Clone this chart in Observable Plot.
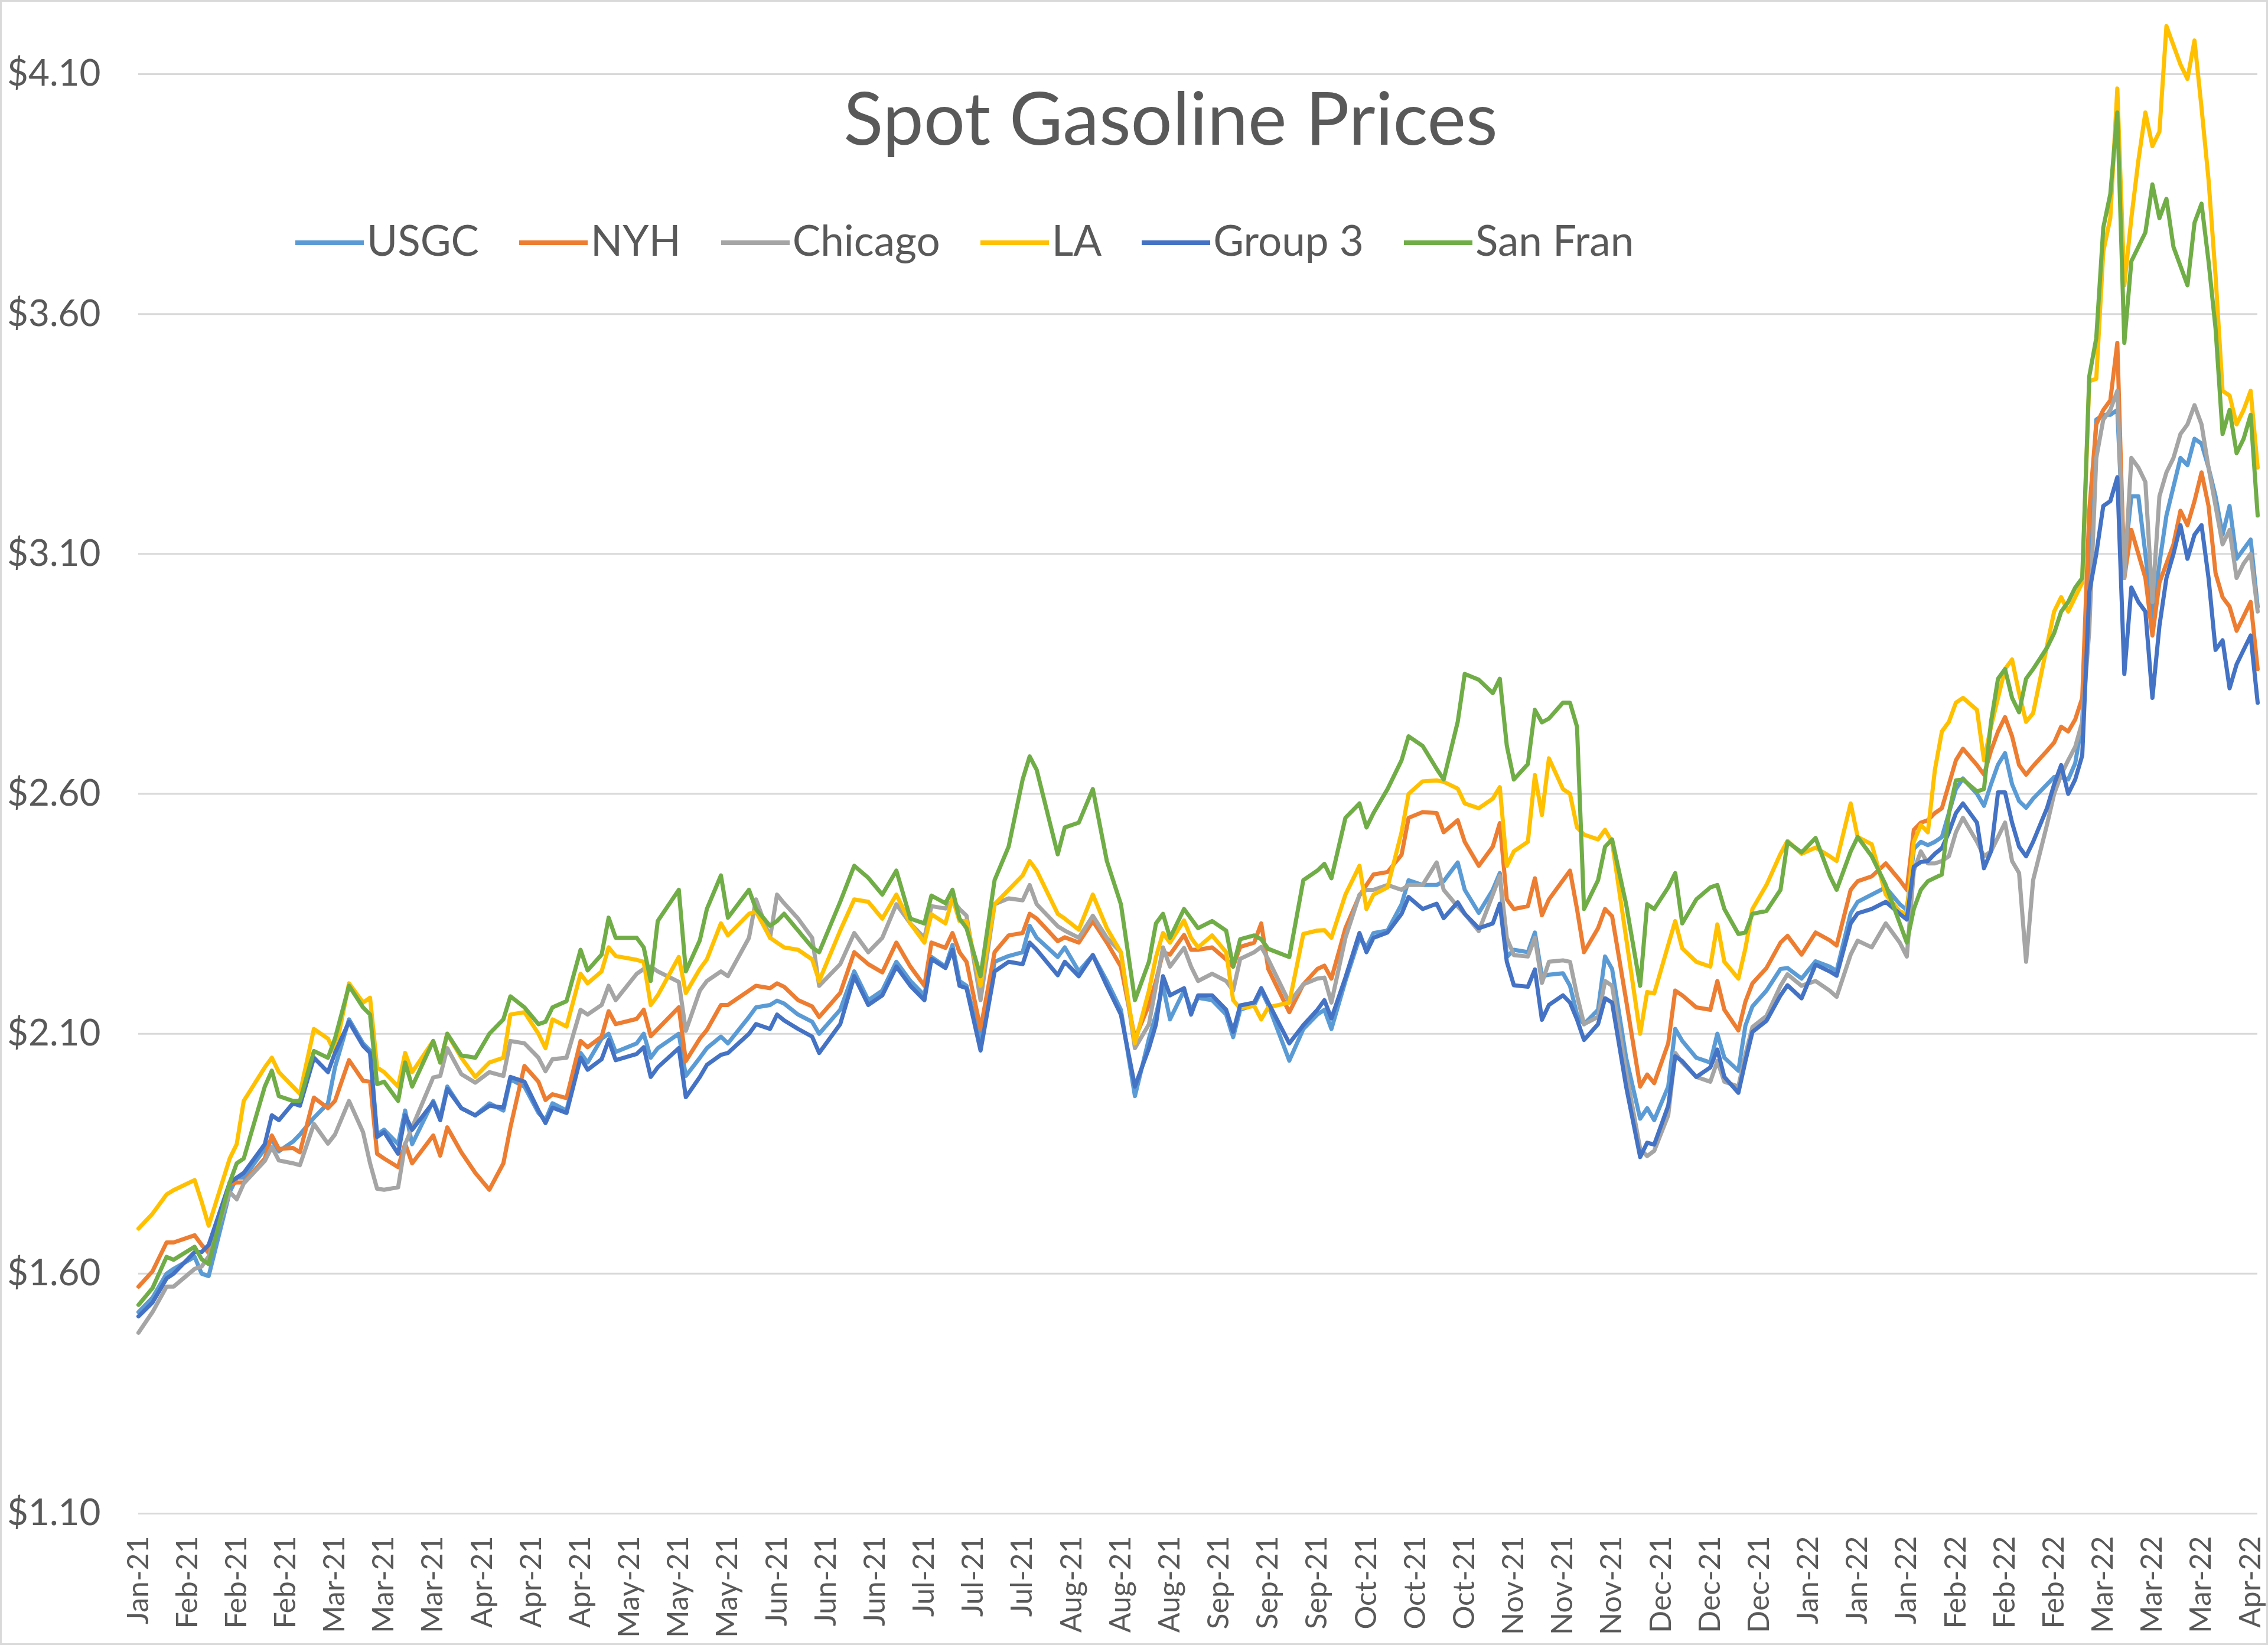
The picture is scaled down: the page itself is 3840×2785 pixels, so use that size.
<!DOCTYPE html>
<html><head><meta charset="utf-8">
<script src="https://cdn.jsdelivr.net/npm/d3@7"></script>
<script src="https://cdn.jsdelivr.net/npm/@observablehq/plot@0.6"></script>
<style>
html,body{margin:0;padding:0;background:#fff;}
#wrap{position:relative;width:3840px;height:2785px;overflow:hidden;font-family:Lato,"Open Sans",sans-serif;background:#fff;}
#frame{position:absolute;left:0;top:0;width:3840px;height:2785px;box-sizing:border-box;border:3px solid #d9d9d9;pointer-events:none;}
#title{position:absolute;left:1982px;top:135px;transform:translateX(-50%);font-size:124px;line-height:1;color:#595959;white-space:nowrap;}
#legend{position:absolute;left:500px;top:370px;display:flex;align-items:center;font-size:71px;color:#595959;line-height:1;white-space:nowrap;}
.item{display:flex;align-items:center;margin-right:68px;}
.sw{width:116px;height:8px;margin-right:5px;position:relative;top:5px;}
</style></head><body>
<div id="wrap"><div id="chart"></div><div id="title">Spot Gasoline Prices</div><div id="legend"></div><div id="frame"></div></div>
<script>
// trading-day index of each sampled point
const day = [0,2,4,5,8,9,10,13,14,15,18,19,20,22,23,25,27,28,30,32,33,34,35,37,38,39,42,43,44,46,48,50,
52,53,55,57,58,59,61,63,64,66,67,68,71,72,73,74,77,78,80,81,83,84,87,88,90,91,92,94,96,97,100,102,
104,106,108,110,112,113,115,116,117,118,120,122,124,126,127,128,131,132,134,136,138,140,142,144,145,146,147,149,150,151,
153,155,156,157,159,160,161,164,166,168,169,170,172,174,175,176,178,180,181,183,185,186,188,189,191,193,194,195,196,198,199,200,201,203,
204,205,206,208,209,210,212,214,215,216,218,219,220,222,224,225,226,228,229,230,232,234,235,237,239,241,242,244,245,247,249,251,252,253,254,
255,256,257,258,259,260,262,263,264,265,266,267,268,269,270,272,273,274,275,276,277,278,279,280,281,282,283,284,285,286,287,288,289,290,291,292,293,294,295,296,297,298,299,300,301,302];

const usgc = [1.52,1.55,1.60,1.61,1.635,1.60,1.595,1.77,1.80,1.80,1.86,1.88,1.855,1.875,1.89,1.925,1.955,2.03,2.13,2.08,2.065,1.89,1.90,1.87,1.94,1.87,1.96,1.925,1.99,1.945,1.93,1.955,
1.94,2.005,1.99,1.935,1.92,1.955,1.94,2.06,2.04,2.09,2.10,2.062,2.08,2.10,2.05,2.07,2.10,2.012,2.05,2.07,2.094,2.08,2.135,2.155,2.16,2.169,2.163,2.14,2.125,2.10,2.15,2.23,
2.17,2.19,2.25,2.21,2.18,2.26,2.24,2.285,2.21,2.20,2.085,2.25,2.262,2.27,2.325,2.30,2.26,2.28,2.23,2.264,2.21,2.15,1.97,2.09,2.14,2.20,2.13,2.19,2.15,2.175,
2.17,2.14,2.093,2.15,2.16,2.19,2.16,2.044,2.11,2.14,2.15,2.11,2.21,2.30,2.28,2.31,2.315,2.37,2.42,2.41,2.41,2.418,2.457,2.40,2.352,2.40,2.435,2.26,2.275,2.27,2.311,2.22,2.223,2.226,
2.20,2.14,2.12,2.15,2.261,2.235,2.05,1.923,1.945,1.92,1.99,2.11,2.085,2.05,2.04,2.10,2.05,2.023,2.117,2.157,2.19,2.235,2.237,2.215,2.251,2.24,2.231,2.351,2.375,2.39,2.405,2.37,2.358,2.485,2.50,
2.493,2.50,2.51,2.56,2.61,2.632,2.60,2.575,2.62,2.661,2.685,2.62,2.585,2.571,2.59,2.62,2.635,2.635,2.63,2.664,2.75,3.10,3.38,3.39,3.39,3.40,3.08,3.22,3.22,3.10,2.96,3.08,3.18,3.24,3.30,3.285,3.34,3.33,3.28,3.22,3.14,3.20,3.09,3.11,3.13,2.99];

const nyh = [1.573,1.605,1.665,1.665,1.68,1.66,1.643,1.788,1.79,1.79,1.84,1.888,1.86,1.862,1.853,1.967,1.945,1.96,2.045,2.002,2.0,1.85,1.84,1.822,1.871,1.83,1.888,1.846,1.905,1.853,1.81,1.775,
1.83,1.905,2.033,2.00,1.962,1.974,1.966,2.085,2.072,2.094,2.147,2.12,2.131,2.15,2.095,2.11,2.155,2.043,2.09,2.108,2.16,2.16,2.19,2.20,2.195,2.205,2.198,2.17,2.157,2.135,2.185,2.27,
2.245,2.228,2.29,2.24,2.20,2.29,2.279,2.31,2.27,2.25,2.11,2.27,2.305,2.31,2.35,2.34,2.293,2.301,2.29,2.335,2.29,2.24,2.09,2.16,2.21,2.27,2.265,2.306,2.275,2.275,
2.28,2.255,2.24,2.281,2.29,2.33,2.235,2.145,2.203,2.235,2.242,2.215,2.32,2.388,2.41,2.432,2.437,2.473,2.55,2.562,2.56,2.52,2.545,2.50,2.45,2.49,2.539,2.38,2.36,2.366,2.424,2.347,2.38,2.42,
2.44,2.36,2.27,2.32,2.36,2.345,2.17,1.99,2.015,1.997,2.08,2.19,2.18,2.155,2.15,2.21,2.15,2.107,2.167,2.205,2.237,2.29,2.304,2.265,2.311,2.295,2.284,2.40,2.418,2.428,2.455,2.42,2.40,2.525,2.54,
2.545,2.56,2.57,2.62,2.67,2.694,2.66,2.64,2.69,2.73,2.76,2.72,2.66,2.64,2.658,2.69,2.707,2.74,2.73,2.755,2.80,3.19,3.37,3.40,3.42,3.54,3.05,3.15,3.10,3.05,2.93,3.04,3.08,3.12,3.19,3.16,3.21,3.27,3.20,3.06,3.01,2.99,2.94,2.97,3.00,2.86];

const chicago = [1.477,1.52,1.573,1.573,1.61,1.615,1.636,1.77,1.755,1.788,1.835,1.864,1.836,1.83,1.826,1.912,1.871,1.89,1.96,1.895,1.83,1.777,1.775,1.78,1.87,1.905,2.009,2.012,2.07,2.016,1.998,2.02,
2.012,2.085,2.08,2.05,2.022,2.047,2.05,2.15,2.14,2.16,2.20,2.17,2.225,2.235,2.24,2.23,2.208,2.106,2.19,2.21,2.23,2.22,2.30,2.38,2.30,2.39,2.372,2.34,2.30,2.20,2.245,2.31,
2.27,2.30,2.37,2.33,2.30,2.366,2.361,2.378,2.36,2.346,2.17,2.37,2.382,2.378,2.41,2.37,2.324,2.315,2.30,2.346,2.30,2.27,2.07,2.12,2.20,2.28,2.24,2.279,2.24,2.21,
2.225,2.21,2.19,2.256,2.27,2.281,2.255,2.165,2.203,2.215,2.217,2.165,2.30,2.39,2.40,2.40,2.41,2.40,2.41,2.41,2.457,2.40,2.365,2.35,2.314,2.39,2.429,2.30,2.264,2.261,2.30,2.206,2.25,2.253,
2.25,2.18,2.12,2.135,2.21,2.20,2.02,1.86,1.845,1.856,1.93,2.06,2.04,2.01,2.00,2.043,2.00,1.99,2.057,2.114,2.137,2.20,2.224,2.20,2.21,2.19,2.177,2.265,2.294,2.28,2.33,2.29,2.261,2.44,2.48,
2.455,2.455,2.46,2.47,2.52,2.55,2.50,2.47,2.48,2.51,2.54,2.46,2.435,2.25,2.42,2.537,2.60,2.64,2.67,2.698,2.75,2.94,3.30,3.38,3.40,3.44,3.05,3.30,3.28,3.25,3.00,3.22,3.27,3.30,3.35,3.37,3.41,3.37,3.28,3.20,3.12,3.15,3.05,3.08,3.10,2.98];

const la = [1.694,1.725,1.765,1.774,1.795,1.75,1.70,1.84,1.87,1.96,2.03,2.05,2.02,1.99,1.975,2.11,2.09,2.06,2.205,2.165,2.175,2.03,2.02,1.99,2.06,2.02,2.085,2.04,2.10,2.05,2.01,2.04,
2.05,2.14,2.145,2.10,2.07,2.13,2.115,2.225,2.205,2.23,2.28,2.262,2.254,2.25,2.16,2.18,2.26,2.185,2.235,2.255,2.33,2.305,2.35,2.355,2.30,2.29,2.28,2.275,2.255,2.21,2.315,2.38,
2.375,2.34,2.39,2.33,2.29,2.349,2.33,2.383,2.335,2.335,2.20,2.37,2.40,2.43,2.46,2.44,2.35,2.34,2.317,2.39,2.32,2.27,2.08,2.19,2.26,2.31,2.29,2.336,2.30,2.28,
2.305,2.27,2.17,2.153,2.158,2.13,2.155,2.165,2.308,2.315,2.316,2.30,2.39,2.45,2.36,2.39,2.405,2.52,2.60,2.626,2.628,2.625,2.611,2.58,2.57,2.59,2.614,2.45,2.48,2.50,2.639,2.556,2.674,2.61,
2.60,2.53,2.515,2.505,2.525,2.50,2.30,2.10,2.187,2.184,2.285,2.335,2.278,2.25,2.24,2.328,2.25,2.215,2.278,2.36,2.41,2.475,2.502,2.475,2.488,2.47,2.46,2.58,2.51,2.495,2.39,2.355,2.35,2.50,2.535,
2.52,2.65,2.73,2.75,2.79,2.80,2.775,2.67,2.74,2.80,2.86,2.88,2.81,2.75,2.768,2.91,2.98,3.01,2.98,3.01,3.04,3.46,3.465,3.73,3.80,4.07,3.66,3.80,3.92,4.02,3.95,3.98,4.20,4.16,4.12,4.09,4.17,4.03,3.88,3.68,3.44,3.43,3.37,3.40,3.44,3.28];

const group3 = [1.511,1.54,1.59,1.60,1.645,1.645,1.66,1.79,1.80,1.81,1.87,1.93,1.92,1.955,1.95,2.05,2.02,2.06,2.125,2.075,2.06,1.885,1.895,1.85,1.93,1.90,1.957,1.92,1.985,1.945,1.93,1.95,
1.946,2.01,2.00,1.94,1.914,1.946,1.935,2.05,2.025,2.047,2.087,2.045,2.058,2.072,2.01,2.03,2.07,1.968,2.01,2.035,2.056,2.06,2.10,2.12,2.11,2.14,2.128,2.11,2.094,2.06,2.12,2.22,
2.16,2.18,2.24,2.20,2.17,2.256,2.237,2.275,2.20,2.195,2.065,2.23,2.25,2.245,2.29,2.275,2.222,2.25,2.22,2.264,2.20,2.14,1.99,2.07,2.12,2.22,2.18,2.195,2.14,2.18,
2.18,2.15,2.104,2.159,2.165,2.195,2.165,2.08,2.118,2.15,2.17,2.132,2.217,2.31,2.27,2.30,2.311,2.35,2.385,2.36,2.371,2.341,2.374,2.35,2.32,2.33,2.371,2.25,2.201,2.198,2.234,2.129,2.16,2.18,
2.165,2.13,2.087,2.12,2.174,2.165,1.99,1.843,1.873,1.869,1.95,2.053,2.043,2.01,2.03,2.067,2.01,1.977,2.043,2.104,2.127,2.18,2.201,2.174,2.244,2.23,2.221,2.33,2.351,2.36,2.375,2.35,2.338,2.448,2.458,
2.46,2.475,2.487,2.52,2.56,2.58,2.54,2.445,2.48,2.603,2.603,2.54,2.49,2.47,2.50,2.571,2.62,2.66,2.60,2.63,2.68,3.02,3.10,3.20,3.21,3.26,2.85,3.03,3.00,2.98,2.80,2.95,3.05,3.10,3.16,3.09,3.14,3.16,3.05,2.90,2.92,2.82,2.87,2.90,2.93,2.79];

const sanFran = [1.535,1.57,1.635,1.629,1.656,1.63,1.62,1.79,1.83,1.84,1.99,2.023,1.97,1.96,1.96,2.064,2.05,2.09,2.20,2.155,2.14,1.995,2.0,1.96,2.04,1.99,2.085,2.04,2.10,2.055,2.05,2.10,
2.13,2.178,2.155,2.12,2.125,2.155,2.168,2.275,2.232,2.265,2.342,2.30,2.30,2.28,2.21,2.335,2.40,2.23,2.295,2.36,2.43,2.342,2.40,2.36,2.325,2.335,2.35,2.315,2.28,2.27,2.375,2.45,
2.425,2.39,2.44,2.34,2.33,2.388,2.372,2.40,2.34,2.32,2.22,2.42,2.49,2.63,2.678,2.65,2.474,2.53,2.54,2.61,2.46,2.37,2.17,2.25,2.33,2.35,2.30,2.36,2.34,2.32,
2.335,2.315,2.24,2.297,2.305,2.297,2.277,2.26,2.42,2.44,2.454,2.424,2.55,2.58,2.53,2.56,2.61,2.67,2.72,2.70,2.652,2.63,2.75,2.85,2.838,2.81,2.84,2.70,2.63,2.662,2.775,2.749,2.757,2.79,
2.79,2.74,2.36,2.42,2.49,2.505,2.37,2.20,2.37,2.36,2.405,2.435,2.33,2.38,2.405,2.41,2.36,2.308,2.311,2.35,2.356,2.40,2.50,2.478,2.508,2.43,2.40,2.48,2.51,2.47,2.41,2.33,2.29,2.36,2.40,
2.418,2.425,2.432,2.56,2.628,2.63,2.605,2.61,2.75,2.84,2.86,2.80,2.77,2.84,2.86,2.905,2.935,2.98,3.00,3.03,3.05,3.47,3.55,3.78,3.85,4.02,3.54,3.71,3.74,3.77,3.87,3.80,3.84,3.74,3.70,3.66,3.79,3.83,3.71,3.57,3.35,3.40,3.31,3.34,3.39,3.18];

const seriesNames = ["USGC","NYH","Chicago","LA","Group 3","San Fran"];
const seriesColors = ["#5B9BD5","#ED7D31","#A5A5A5","#FFC000","#4472C4","#70AD47"];
const seriesValues = [usgc, nyh, chicago, la, group3, sanFran];

const yTicks = [1.10,1.60,2.10,2.60,3.10,3.60,4.10];
const xLabels = ["Jan-21","Feb-21","Feb-21","Feb-21","Mar-21","Mar-21","Mar-21","Apr-21","Apr-21","Apr-21","May-21","May-21","May-21",
"Jun-21","Jun-21","Jun-21","Jul-21","Jul-21","Jul-21","Aug-21","Aug-21","Aug-21","Sep-21","Sep-21","Sep-21","Oct-21","Oct-21","Oct-21",
"Nov-21","Nov-21","Nov-21","Dec-21","Dec-21","Dec-21","Jan-22","Jan-22","Jan-22","Feb-22","Feb-22","Feb-22","Mar-22","Mar-22","Mar-22","Apr-22"];
const labelStep = 7;
const xTicks = xLabels.map((_, k) => k * labelStep);

const lineMarks = seriesValues.map((vals, s) =>
  Plot.lineY(vals, {x: (d, i) => day[i], y: d => d, stroke: seriesColors[s], strokeWidth: 7,
    strokeLinejoin: "round", strokeLinecap: "round"}));

const chart = Plot.plot({
  width: 3840, height: 2785,
  marginLeft: 234, marginRight: 18, marginTop: 125, marginBottom: 223,
  style: {fontFamily: 'Lato, "Open Sans", sans-serif', color: "#595959", background: "transparent", overflow: "visible"},
  x: {domain: [0, 302], label: null},
  y: {domain: [1.10, 4.10], label: null},
  marks: [
    Plot.gridY(yTicks, {stroke: "#d9d9d9", strokeOpacity: 1, strokeWidth: 3}),
    Plot.axisY(yTicks, {tickFormat: d => "$" + d.toFixed(2), tickSize: 0, tickPadding: 64, fontSize: 62, label: null}),
    Plot.axisX(xTicks, {tickFormat: d => xLabels[Math.round(d / labelStep)], tickRotate: -90, tickSize: 0, tickPadding: 38, fontSize: 50, label: null}),
    ...lineMarks
  ]
});
document.getElementById("chart").appendChild(chart);

const legend = document.getElementById("legend");
seriesNames.forEach((n, s) => {
  const item = document.createElement("div"); item.className = "item";
  const sw = document.createElement("div"); sw.className = "sw"; sw.style.background = seriesColors[s];
  const t = document.createElement("span"); t.textContent = n;
  item.appendChild(sw); item.appendChild(t); legend.appendChild(item);
});
</script>
</body></html>
